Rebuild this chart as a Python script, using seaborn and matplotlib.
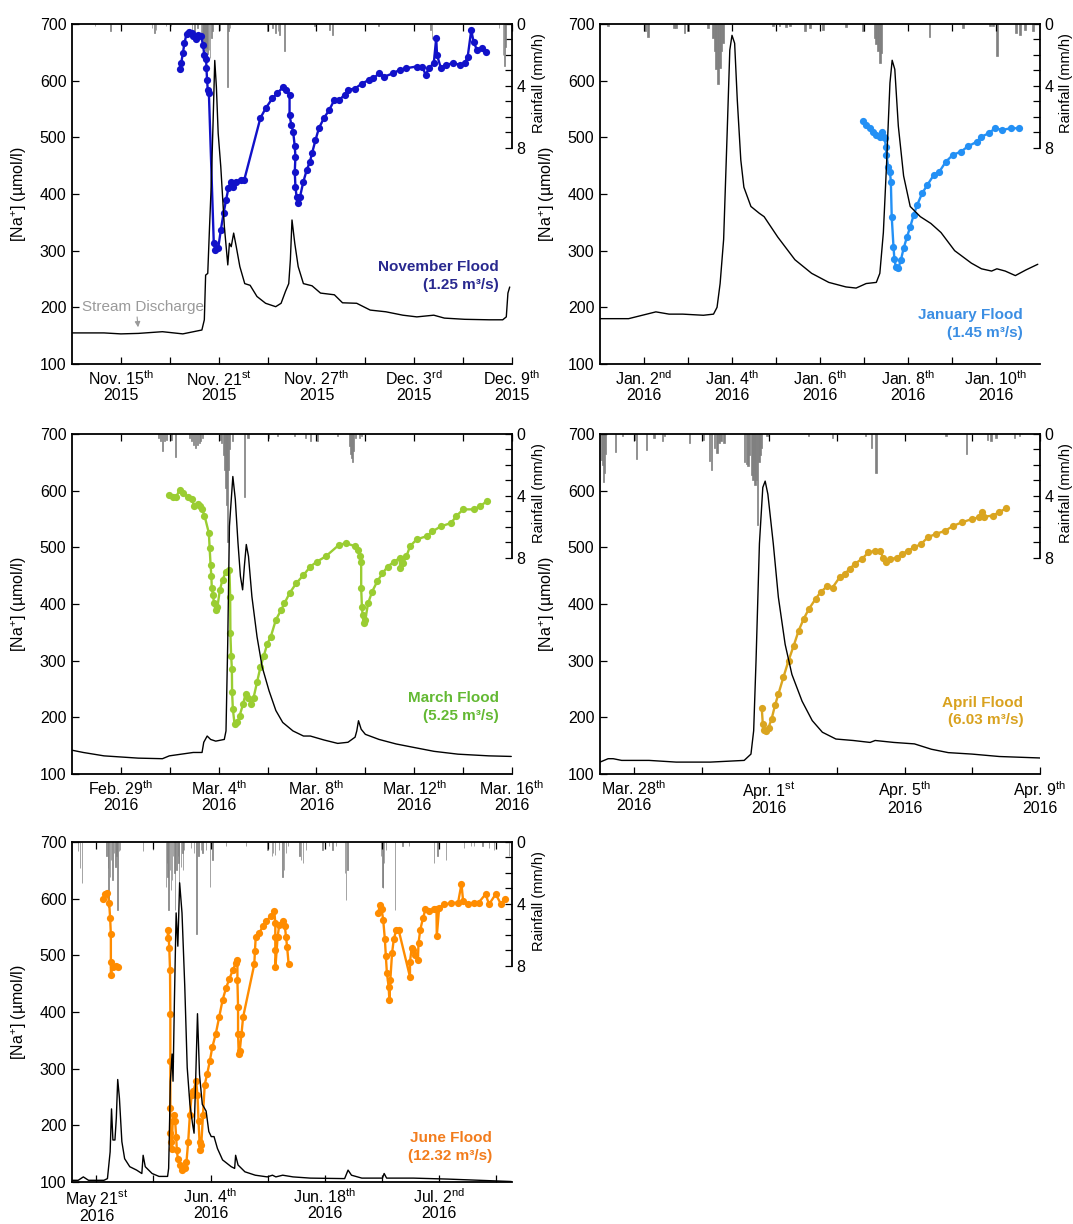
import numpy as np
import pandas as pd
import matplotlib
matplotlib.use("Agg")
import matplotlib.pyplot as plt
import matplotlib.dates as mdates
from matplotlib.ticker import FixedLocator, FixedFormatter
import seaborn as sns

sns.set_style("ticks")
plt.rcParams["font.family"] = ["Liberation Sans", "DejaVu Sans"]
plt.rcParams.update({
    "mathtext.fontset": "custom",
    "mathtext.rm": "Liberation Sans",
    "mathtext.it": "Liberation Sans:italic",
    "mathtext.bf": "Liberation Sans:bold",
    "axes.edgecolor": "black",
    "xtick.color": "black",
    "ytick.color": "black",
    "text.color": "black",
    "axes.labelcolor": "black",
})

RAIN_COLOR = "#808080"

# ---------------------------------------------------------------------------
# November 2015 flood  (times in days after the panel start date)
# ---------------------------------------------------------------------------
nov_start, nov_end = "2015-11-12", "2015-12-09"
nov_na = [(6.6, 620), (6.7, 631), (6.8, 648), (6.9, 666), (7.03, 683), (7.2, 686), (7.35, 684),
          (7.45, 678), (7.6, 673), (7.76, 680), (7.93, 678), (8.04, 663), (8.12, 645), (8.23, 639),
          (8.25, 622), (8.29, 601), (8.33, 584), (8.4, 578), (8.7, 313), (8.8, 301), (8.97, 304),
          (9.13, 336), (9.3, 366), (9.45, 389), (9.6, 410), (9.73, 422), (9.87, 413), (10.08, 422),
          (10.4, 425), (10.57, 425), (11.56, 534), (11.88, 551), (12.3, 569), (12.6, 578),
          (12.93, 588), (13.14, 584), (13.35, 575), (13.35, 539), (13.46, 522), (13.57, 510),
          (13.67, 484), (13.71, 466), (13.67, 439), (13.71, 413), (13.78, 395), (13.84, 384),
          (13.99, 395), (14.2, 422), (14.4, 442), (14.6, 457), (14.73, 472), (14.94, 495),
          (15.15, 516), (15.46, 534), (15.78, 548), (16.1, 566), (16.4, 566), (16.73, 575),
          (16.94, 584), (17.36, 586), (17.8, 595), (18.2, 601), (18.5, 604), (18.84, 613),
          (19.16, 607), (19.7, 613), (20.1, 619), (20.5, 622), (21.16, 625), (21.5, 625),
          (21.7, 610), (21.9, 622), (22.2, 631), (22.35, 675), (22.4, 645), (22.64, 622),
          (22.95, 628), (23.4, 631), (23.8, 628), (24.1, 631), (24.28, 642), (24.5, 689),
          (24.64, 669), (24.85, 654), (25.17, 657), (25.4, 651)]
nov_discharge = [(0, 0.128), (1.96, 0.128), (3.0, 0.124), (4.07, 0.126), (5.55, 0.133), (6.8, 0.124),
                 (7.97, 0.14), (8.12, 0.182), (8.2, 0.366), (8.33, 0.373), (8.44, 0.565), (8.54, 0.73),
                 (8.65, 0.978), (8.76, 1.25), (8.86, 1.141), (8.97, 0.95), (9.13, 0.812), (9.35, 0.565),
                 (9.56, 0.408), (9.66, 0.497), (9.77, 0.483), (9.92, 0.539), (10.08, 0.483), (10.3, 0.401),
                 (10.6, 0.331), (10.93, 0.324), (11.35, 0.278), (11.88, 0.25), (12.5, 0.236), (12.83, 0.25),
                 (13.1, 0.299), (13.3, 0.331), (13.4, 0.429), (13.5, 0.593), (13.67, 0.497), (13.88, 0.401),
                 (14.2, 0.331), (14.73, 0.322), (15.25, 0.292), (16.1, 0.285), (16.6, 0.252), (17.47, 0.25),
                 (18.3, 0.222), (19.26, 0.215), (20.3, 0.201), (21.16, 0.194), (22.2, 0.201), (22.85, 0.189),
                 (24.1, 0.184), (25.6, 0.182), (26.43, 0.182), (26.65, 0.194), (26.75, 0.292), (26.86, 0.317)]
nov_rain = [(1.41, 0.15), (2.35, 0.47), (3.0, 0.15), (4.9, 0.26), (5.05, 0.58), (5.15, 0.36), (5.77, 0.15),
            (6.07, 0.15), (7.36, 0.9), (7.5, 0.47), (7.7, 0.26), (7.91, 0.68), (8.0, 1.0), (8.06, 1.32),
            (8.12, 1.5), (8.18, 1.75), (8.25, 1.55), (8.32, 1.97), (8.4, 1.65), (8.47, 2.18), (8.55, 0.9),
            (8.63, 0.47), (9.04, 0.36), (9.55, 4.1), (9.62, 0.47), (9.7, 0.26), (12.0, 0.47), (12.3, 0.26),
            (12.5, 0.58), (12.65, 0.47), (12.75, 0.68), (13.03, 1.75), (14.9, 0.15), (15.8, 0.36),
            (16.0, 0.68), (18.8, 0.15), (22.0, 0.36), (22.1, 1.0), (24.0, 0.26), (26.2, 0.26),
            (26.45, 2.0), (26.55, 2.7), (26.62, 1.5)]
nov_major = ["2015-11-15", "2015-11-21", "2015-11-27", "2015-12-03", "2015-12-09"]
nov_labels = ["Nov. 15$^{\\mathrm{th}}$\n2015", "Nov. 21$^{\\mathrm{st}}$\n2015",
              "Nov. 27$^{\\mathrm{th}}$\n2015", "Dec. 3$^{\\mathrm{rd}}$\n2015",
              "Dec. 9$^{\\mathrm{th}}$\n2015"]
nov_minor = ["2015-11-18", "2015-11-24", "2015-11-30", "2015-12-06"]

# ---------------------------------------------------------------------------
# January 2016 flood
# ---------------------------------------------------------------------------
jan_start, jan_end = "2016-01-01", "2016-01-11"
jan_na = [(5.97, 528), (6.05, 522), (6.13, 516), (6.2, 510), (6.28, 504), (6.36, 501), (6.42, 510),
          (6.45, 501), (6.47, 498), (6.5, 483), (6.51, 469), (6.55, 448), (6.59, 439), (6.61, 422),
          (6.63, 360), (6.67, 307), (6.69, 286), (6.72, 272), (6.78, 269), (6.84, 284), (6.9, 304),
          (6.98, 325), (7.05, 342), (7.13, 363), (7.21, 381), (7.32, 401), (7.44, 416), (7.59, 434),
          (7.71, 439), (7.86, 457), (8.02, 469), (8.21, 475), (8.36, 484), (8.56, 492), (8.67, 501),
          (8.83, 507), (8.98, 516), (9.14, 513), (9.33, 516), (9.52, 516)]
jan_discharge = [(0, 0.20), (0.65, 0.20), (0.96, 0.215), (1.27, 0.23), (1.57, 0.22), (1.88, 0.22),
                 (2.35, 0.215), (2.58, 0.22), (2.66, 0.25), (2.73, 0.355), (2.81, 0.55), (2.89, 1.02),
                 (2.95, 1.385), (3.0, 1.45), (3.06, 1.415), (3.12, 1.165), (3.2, 0.90), (3.27, 0.78),
                 (3.43, 0.695), (3.62, 0.665), (3.73, 0.65), (4.04, 0.56), (4.43, 0.46), (4.81, 0.40),
                 (5.2, 0.36), (5.59, 0.34), (5.82, 0.335), (6.05, 0.355), (6.28, 0.36), (6.36, 0.40),
                 (6.44, 0.58), (6.51, 0.87), (6.59, 1.24), (6.64, 1.34), (6.7, 1.30), (6.78, 1.05),
                 (6.9, 0.83), (7.05, 0.695), (7.28, 0.65), (7.52, 0.62), (7.75, 0.58), (8.06, 0.50),
                 (8.44, 0.445), (8.67, 0.42), (8.9, 0.41), (9.02, 0.42), (9.21, 0.41), (9.44, 0.39),
                 (9.68, 0.415), (9.95, 0.44)]
jan_rain = [(0.18, 0.15), (1.02, 0.47), (1.09, 0.85), (1.68, 0.26), (1.73, 0.26), (1.92, 0.58), (2.0, 0.47),
            (2.45, 0.26), (2.57, 0.9), (2.61, 1.75), (2.64, 2.9), (2.68, 3.9), (2.72, 2.85), (2.76, 1.75),
            (2.8, 1.22), (3.93, 0.15), (4.08, 0.15), (4.23, 0.2), (4.31, 0.15), (4.65, 0.47), (4.77, 0.26),
            (5.07, 0.36), (5.6, 0.2), (5.98, 0.47), (6.24, 0.9), (6.28, 1.32), (6.32, 1.75), (6.36, 2.5),
            (6.39, 1.86), (7.49, 0.85), (8.25, 0.26), (8.86, 0.15), (8.93, 0.15), (9.03, 2.07),
            (9.46, 0.58), (9.54, 0.68), (9.65, 0.36), (9.84, 0.47)]
jan_major = ["2016-01-02", "2016-01-04", "2016-01-06", "2016-01-08", "2016-01-10"]
jan_labels = ["Jan. 2$^{\\mathrm{nd}}$\n2016", "Jan. 4$^{\\mathrm{th}}$\n2016", "Jan. 6$^{\\mathrm{th}}$\n2016",
              "Jan. 8$^{\\mathrm{th}}$\n2016", "Jan. 10$^{\\mathrm{th}}$\n2016"]
jan_minor = ["2016-01-03", "2016-01-05", "2016-01-07", "2016-01-09"]

# ---------------------------------------------------------------------------
# March 2016 flood
# ---------------------------------------------------------------------------
mar_start, mar_end = "2016-02-27", "2016-03-16"
mar_na = [(3.98, 593), (4.12, 589), (4.26, 588), (4.4, 602), (4.54, 596), (4.75, 589), (4.9, 585),
          (5.0, 573), (5.14, 576), (5.25, 573), (5.32, 567), (5.42, 556), (5.6, 525), (5.63, 499),
          (5.67, 469), (5.7, 449), (5.72, 428), (5.77, 416), (5.81, 401), (5.88, 389), (5.95, 395),
          (6.05, 425), (6.16, 443), (6.3, 457), (6.44, 460), (6.47, 413), (6.48, 348), (6.51, 309),
          (6.54, 286), (6.55, 244), (6.58, 215), (6.65, 188), (6.77, 191), (6.86, 203), (7.0, 224),
          (7.1, 241), (7.22, 235), (7.33, 224), (7.43, 235), (7.57, 262), (7.71, 289), (7.85, 309),
          (7.99, 330), (8.13, 342), (8.34, 372), (8.55, 389), (8.69, 401), (8.9, 419), (9.18, 437),
          (9.47, 451), (9.75, 466), (10.03, 475), (10.38, 484), (10.94, 505), (11.22, 507),
          (11.58, 502), (11.72, 496), (11.79, 484), (11.83, 475), (11.83, 428), (11.86, 395),
          (11.89, 380), (11.93, 366), (12.0, 372), (12.11, 401), (12.28, 422), (12.49, 440),
          (12.7, 454), (12.91, 466), (13.19, 475), (13.4, 481), (13.43, 463), (13.54, 472),
          (13.68, 484), (13.83, 502), (14.1, 514), (14.53, 520), (14.74, 528), (15.09, 537),
          (15.51, 543), (15.72, 555), (16.0, 567), (16.43, 567), (16.71, 573), (16.99, 582)]
mar_discharge = [(0, 0.42), (0.46, 0.38), (1.31, 0.32), (2.71, 0.28), (3.7, 0.27), (3.98, 0.32), (4.96, 0.38),
                 (5.32, 0.38), (5.39, 0.56), (5.53, 0.67), (5.67, 0.61), (5.88, 0.58), (6.23, 0.61),
                 (6.3, 0.76), (6.37, 2.30), (6.44, 4.37), (6.58, 5.25), (6.68, 4.85), (6.79, 4.08),
                 (6.89, 3.49), (6.98, 3.25), (7.05, 3.66), (7.13, 4.05), (7.22, 3.84), (7.36, 3.13),
                 (7.57, 2.42), (7.78, 1.89), (8.06, 1.47), (8.34, 1.12), (8.62, 0.91), (9.04, 0.76),
                 (9.47, 0.67), (9.75, 0.67), (10.31, 0.60), (10.87, 0.54), (11.29, 0.56), (11.58, 0.65),
                 (11.65, 0.76), (11.72, 0.94), (11.83, 0.79), (12.0, 0.70), (12.56, 0.61), (13.26, 0.53),
                 (13.97, 0.47), (14.81, 0.40), (15.79, 0.35), (17.06, 0.32), (17.97, 0.31)]
mar_rain = [(3.55, 0.26), (3.63, 0.48), (3.71, 1.13), (3.78, 0.48), (3.85, 0.37), (4.05, 0.37), (4.23, 1.52),
            (4.8, 0.26), (4.9, 0.48), (4.98, 0.7), (5.07, 0.91), (5.13, 0.7), (5.2, 0.59), (5.27, 0.48),
            (5.33, 0.26), (6.06, 0.37), (6.13, 0.59), (6.2, 1.35), (6.25, 2.3), (6.3, 3.5), (6.33, 4.6),
            (6.37, 7.0), (6.41, 2.3), (6.45, 1.0), (6.55, 0.48), (7.05, 4.1), (7.2, 0.26), (8.05, 0.26),
            (8.4, 0.15), (9.1, 0.15), (9.55, 0.26), (9.75, 0.48), (10.05, 0.48), (10.85, 0.15),
            (11.37, 0.8), (11.41, 1.3), (11.44, 1.56), (11.48, 1.78), (11.52, 1.13), (11.6, 0.26),
            (11.75, 0.26), (11.85, 0.15)]
mar_major = ["2016-02-29", "2016-03-04", "2016-03-08", "2016-03-12", "2016-03-16"]
mar_labels = ["Feb. 29$^{\\mathrm{th}}$\n2016", "Mar. 4$^{\\mathrm{th}}$\n2016", "Mar. 8$^{\\mathrm{th}}$\n2016",
              "Mar. 12$^{\\mathrm{th}}$\n2016", "Mar. 16$^{\\mathrm{th}}$\n2016"]
mar_minor = ["2016-03-02", "2016-03-06", "2016-03-10", "2016-03-14"]

# ---------------------------------------------------------------------------
# April 2016 flood
# ---------------------------------------------------------------------------
apr_start, apr_end = "2016-03-27", "2016-04-09"
apr_na = [(4.78, 216), (4.81, 188), (4.86, 178), (4.91, 176), (4.98, 182), (5.07, 197), (5.17, 221),
          (5.27, 241), (5.42, 271), (5.57, 300), (5.72, 326), (5.87, 353), (6.02, 374), (6.17, 391),
          (6.37, 409), (6.52, 421), (6.72, 432), (6.87, 429), (7.08, 447), (7.23, 453), (7.38, 462),
          (7.53, 471), (7.73, 479), (7.93, 491), (8.13, 494), (8.28, 494), (8.36, 482), (8.46, 474),
          (8.58, 479), (8.78, 482), (8.93, 488), (9.09, 494), (9.29, 500), (9.49, 506), (9.69, 518),
          (9.94, 524), (10.19, 529), (10.44, 538), (10.69, 544), (10.99, 550), (11.2, 553),
          (11.3, 562), (11.35, 554), (11.6, 556), (11.8, 562), (12.0, 569)]
apr_discharge = [(0, 0.245), (0.24, 0.315), (0.39, 0.315), (0.64, 0.28), (1.45, 0.28), (2.25, 0.245),
                 (3.26, 0.245), (4.26, 0.28), (4.46, 0.41), (4.54, 0.89), (4.61, 2.33), (4.71, 4.74),
                 (4.81, 5.90), (4.88, 6.03), (4.96, 5.76), (5.12, 4.74), (5.27, 3.64), (5.47, 2.67),
                 (5.67, 2.05), (5.97, 1.5), (6.27, 1.10), (6.57, 0.86), (6.97, 0.72), (7.48, 0.69),
                 (7.98, 0.65), (8.13, 0.69), (8.68, 0.65), (9.29, 0.62), (9.79, 0.51), (10.29, 0.44),
                 (10.99, 0.41), (11.8, 0.36), (13.0, 0.33)]
apr_rain = [(0.05, 1.7), (0.08, 2.0), (0.1, 3.1), (0.13, 2.5), (0.17, 1.3), (0.46, 1.15), (0.67, 0.15),
            (1.02, 0.37), (1.07, 1.6), (1.37, 1.05), (1.6, 0.26), (1.84, 0.48), (1.9, 0.15), (2.65, 0.6),
            (3.05, 0.37), (3.24, 1.75), (3.3, 2.3), (3.38, 0.9), (3.46, 1.25), (3.52, 0.6), (3.58, 0.48),
            (3.66, 0.6), (4.27, 1.8), (4.32, 1.95), (4.37, 2.05), (4.42, 1.35), (4.49, 2.65), (4.52, 3.0),
            (4.55, 2.3), (4.58, 3.3), (4.62, 3.0), (4.66, 5.9), (4.7, 1.78), (4.73, 1.35), (4.77, 0.9),
            (4.93, 0.15), (6.16, 0.15), (6.87, 0.26), (7.85, 0.15), (8.02, 0.91), (8.16, 2.55),
            (10.22, 0.15), (10.82, 1.3), (11.45, 0.37), (11.55, 0.48), (11.7, 0.26), (12.25, 0.26),
            (12.4, 0.15)]
apr_major = ["2016-03-28", "2016-04-01", "2016-04-05", "2016-04-09"]
apr_labels = ["Mar. 28$^{\\mathrm{th}}$\n2016", "Apr. 1$^{\\mathrm{st}}$\n2016", "Apr. 5$^{\\mathrm{th}}$\n2016",
              "Apr. 9$^{\\mathrm{th}}$\n2016"]
apr_minor = ["2016-03-30", "2016-04-03", "2016-04-07"]

# ---------------------------------------------------------------------------
# June 2016 flood (three sampling campaigns)
# ---------------------------------------------------------------------------
jun_start, jun_end = "2016-05-18", "2016-07-11"
jun_na_a = [(3.84, 599), (4.05, 608), (4.35, 610), (4.56, 593), (4.68, 566), (4.77, 537), (4.77, 489),
            (4.77, 465), (4.98, 480), (5.4, 481), (5.6, 480)]
jun_na_b = [(11.73, 531), (11.81, 545), (11.94, 513), (12.03, 474), (12.07, 397), (12.07, 314),
            (12.07, 231), (12.03, 186), (12.15, 171), (12.24, 159), (12.36, 207), (12.49, 219),
            (12.66, 207), (12.78, 180), (12.87, 156), (12.99, 141), (13.21, 130), (13.54, 121),
            (13.84, 124), (14.05, 136), (14.26, 171), (14.47, 219), (14.68, 254), (14.89, 260),
            (15.23, 278), (15.4, 254), (15.53, 207), (15.65, 171), (15.74, 156), (15.86, 165),
            (16.08, 219), (16.29, 272), (16.58, 290), (16.92, 314), (17.22, 338), (17.64, 361),
            (18.06, 391), (18.48, 421), (18.9, 442), (19.32, 459), (19.75, 474), (20.08, 486),
            (20.3, 492), (20.3, 456), (20.38, 409), (20.38, 361), (20.46, 326), (20.59, 332),
            (20.8, 361), (21.0, 391), (22.37, 484), (22.45, 507), (22.55, 533), (22.99, 539),
            (23.4, 551), (23.8, 560), (24.4, 569), (24.83, 578), (24.95, 557), (24.95, 533),
            (24.95, 510), (24.97, 480), (25.24, 533), (25.44, 554), (25.85, 560), (26.13, 551),
            (26.26, 533), (26.4, 515), (26.59, 484)]
jun_na_c = [(37.55, 575), (37.8, 588), (38.0, 581), (38.19, 563), (38.4, 528), (38.52, 498), (38.65, 468),
            (38.86, 445), (38.95, 421), (39.07, 457), (39.28, 504), (39.49, 528), (39.79, 545),
            (40.08, 545), (41.48, 462), (41.48, 489), (41.69, 513), (41.9, 510), (42.1, 501),
            (42.45, 492), (42.53, 522), (42.74, 545), (43.08, 566), (43.38, 581), (43.8, 578),
            (44.43, 581), (44.73, 581), (44.77, 534), (45.06, 584), (45.7, 590), (46.54, 592),
            (47.38, 593), (47.8, 626), (48.0, 596), (48.65, 590), (49.28, 593), (49.9, 593),
            (50.76, 608), (51.18, 590), (52.0, 608), (52.66, 590), (53.08, 599)]
jun_discharge = [(0, 0.07), (0.76, 0.07), (1.39, 0.21), (2.03, 0.07), (3.92, 0.07), (4.35, 0.14),
                 (4.68, 1.24), (4.85, 3.01), (5.02, 1.73), (5.27, 1.73), (5.44, 2.64), (5.61, 4.22),
                 (5.82, 3.45), (6.12, 1.66), (6.46, 0.96), (7.09, 0.63), (7.93, 0.49), (8.57, 0.35),
                 (8.73, 1.10), (8.99, 0.63), (9.83, 0.35), (10.68, 0.23), (11.73, 0.23), (11.86, 0.56),
                 (11.94, 1.80), (12.07, 4.15), (12.28, 5.27), (12.4, 4.15), (12.57, 7.49), (12.78, 11.08),
                 (12.99, 9.71), (13.21, 12.32), (13.5, 11.08), (13.84, 8.05), (14.14, 4.71), (14.47, 3.20),
                 (14.81, 2.36), (14.98, 2.01), (15.15, 3.87), (15.4, 6.93), (15.65, 4.43), (15.99, 3.20),
                 (16.46, 2.92), (16.79, 2.08), (17.09, 1.87), (17.43, 1.87), (17.85, 1.38), (18.48, 0.91),
                 (19.54, 0.63), (19.96, 0.56), (20.08, 1.10), (20.38, 0.70), (21.22, 0.42), (22.49, 0.28),
                 (23.97, 0.21), (24.6, 0.28), (25.02, 0.21), (25.86, 0.28), (27.13, 0.21), (29.24, 0.16),
                 (33.46, 0.14), (33.88, 0.49), (34.3, 0.28), (35.57, 0.16), (38.1, 0.16), (38.31, 0.35),
                 (38.61, 0.16), (41.9, 0.16), (46.12, 0.12), (53.92, 0.02)]
jun_rain = [(0.7, 0.6), (0.98, 1.7), (1.23, 2.67), (2.94, 0.39), (4.25, 0.93), (4.38, 1.7), (4.5, 4.2),
            (4.66, 2.24), (4.79, 1.15), (4.99, 2.46), (5.19, 0.72), (5.32, 1.59), (5.48, 0.93), (5.6, 4.41),
            (5.73, 0.61), (5.89, 0.5), (8.75, 0.61), (9.98, 0.5), (11.53, 2.89), (11.66, 1.37),
            (11.74, 2.24), (11.86, 4.41), (12.02, 1.8), (12.15, 3.1), (12.27, 2.46), (12.43, 0.93),
            (12.56, 2.02), (12.68, 4.41), (12.84, 1.8), (12.97, 0.93), (13.09, 1.37), (13.17, 2.67),
            (13.37, 1.59), (13.58, 0.72), (13.66, 1.8), (13.78, 0.5), (14.6, 0.39), (15.01, 0.72),
            (15.3, 5.93), (15.54, 0.93), (15.83, 0.5), (16.03, 0.72), (16.44, 0.5), (16.93, 2.89),
            (17.26, 1.15), (18.9, 0.28), (21.35, 0.28), (24.0, 0.5), (24.54, 0.93), (24.7, 0.72),
            (24.95, 0.83), (25.44, 0.5), (25.85, 2.24), (26.05, 1.8), (26.26, 0.72), (26.5, 0.28),
            (27.9, 0.93), (28.1, 1.15), (28.38, 1.37), (28.71, 0.5), (30.76, 0.5), (31.57, 0.28),
            (31.98, 0.5), (32.39, 0.28), (33.54, 2.02), (33.62, 3.76), (33.82, 1.8), (37.91, 0.93),
            (38.12, 2.89), (38.2, 3.0), (38.32, 1.37), (38.53, 0.5), (39.67, 4.41), (40.57, 0.28),
            (41.39, 0.28), (44.46, 1.37), (44.87, 0.93), (45.89, 1.15), (48.14, 0.39), (48.96, 0.28),
            (49.37, 0.28), (50.39, 0.28), (51.21, 0.39), (51.82, 0.5), (53.66, 0.93)]
jun_major = ["2016-05-21", "2016-06-04", "2016-06-18", "2016-07-02"]
jun_labels = ["May 21$^{\\mathrm{st}}$\n2016", "Jun. 4$^{\\mathrm{th}}$\n2016", "Jun. 18$^{\\mathrm{th}}$\n2016",
              "Jul. 2$^{\\mathrm{nd}}$\n2016"]
jun_minor = ["2016-05-28", "2016-06-11", "2016-06-25", "2016-07-09"]


def to_num(start, days):
    t = pd.Timestamp(start) + pd.to_timedelta(np.asarray(days, dtype=float), unit="D")
    return mdates.date2num(t.values)


def draw_panel(fig, rect, start, end, na_segments, discharge, rain, q_top, dot_color, text_color,
               title, peak, major, labels, minor, text_xy, ylab_x, rain_lab_x):
    ax = fig.add_axes(rect)
    axr = ax.twinx()
    axq = ax.twinx()
    axr.set_zorder(1)
    ax.set_zorder(2)
    axq.set_zorder(3)
    ax.patch.set_visible(False)

    # rainfall, hanging from the top on an inverted axis
    rd, rv = zip(*rain)
    axr.bar(to_num(start, rd), rv, width=1 / 24, color=RAIN_COLOR, edgecolor=RAIN_COLOR,
            linewidth=0.5, align="center")
    axr.set_ylim(22, 0)
    for s in ("left", "top", "bottom"):
        axr.spines[s].set_visible(False)
    axr.spines["right"].set_bounds(0, 8)
    axr.spines["right"].set_linewidth(1.3)
    axr.set_yticks([0, 4, 8])
    axr.set_yticks([1, 2, 3, 5, 6, 7], minor=True)
    axr.tick_params(axis="y", which="both", direction="in", length=5, width=0.9,
                    labelsize=11.5, pad=3)
    axr.set_ylabel("Rainfall (mm/h)", fontsize=10.5)
    axr.yaxis.set_label_coords(rain_lab_x, 0.825)

    # stream discharge on its own hidden scale
    qd, qv = zip(*discharge)
    sns.lineplot(x=to_num(start, qd), y=np.asarray(qv), ax=axq, color="black", linewidth=1.0,
                 sort=False, estimator=None)
    axq.set_ylim(0, q_top)
    axq.set_axis_off()

    # sodium concentration
    frames = []
    for k, seg in enumerate(na_segments):
        d, v = zip(*seg)
        frames.append(pd.DataFrame({"time": to_num(start, d), "na": v, "segment": k}))
    df = pd.concat(frames, ignore_index=True)
    sns.lineplot(data=df, x="time", y="na", units="segment", estimator=None, sort=False,
                 color=dot_color, marker="o", markersize=5.2, markeredgewidth=0,
                 linewidth=1.7, ax=ax, legend=False)

    ax.set_xlim(mdates.date2num(pd.Timestamp(start)), mdates.date2num(pd.Timestamp(end)))
    ax.set_ylim(100, 700)
    ax.set_yticks(np.arange(100, 701, 100))
    ax.xaxis.set_major_locator(FixedLocator(mdates.date2num(pd.to_datetime(major).values)))
    ax.xaxis.set_major_formatter(FixedFormatter(labels))
    ax.xaxis.set_minor_locator(FixedLocator(mdates.date2num(pd.to_datetime(minor).values)))
    ax.tick_params(axis="both", which="both", direction="in", length=5, width=0.9,
                   top=True, bottom=True, left=True, right=False, labelsize=11.5, pad=4)
    for lab in ax.get_xticklabels():
        lab.set_linespacing(1.0)
    ax.spines["right"].set_visible(False)
    for s in ("left", "top", "bottom"):
        ax.spines[s].set_linewidth(1.3)
    ax.set_xlabel("")
    ax.set_ylabel("[Na$^{+}$] (µmol/l)", fontsize=11.5)
    ax.yaxis.set_label_coords(ylab_x, 0.5)

    ax.text(text_xy[0], text_xy[1], f"{title}\n({peak} m³/s)", transform=ax.transAxes,
            ha="right", va="center", ma="right", color=text_color, fontsize=11,
            fontweight="bold", linespacing=1.35)
    return ax, axq


fig = plt.figure(figsize=(10.73, 12.24), dpi=100)
W, H = 440 / 1073, 340 / 1224
col1, col2 = 72 / 1073, 600 / 1073
row1, row2, row3 = 1 - 364 / 1224, 1 - 774 / 1224, 1 - 1182 / 1224

ax1, axq1 = draw_panel(fig, [col1, row1, W, H], nov_start, nov_end, [nov_na], nov_discharge, nov_rain,
                       1.4, "#1111c9", "#29298f", "November Flood", "1.25",
                       nov_major, nov_labels, nov_minor, (0.971, 0.26), -0.098, 1.045)
draw_panel(fig, [col2, row1, W, H], jan_start, jan_end, [jan_na], jan_discharge, jan_rain,
           1.5, "#2390f5", "#3b8ee3", "January Flood", "1.45",
           jan_major, jan_labels, jan_minor, (0.96, 0.117), -0.098, 1.043)
draw_panel(fig, [col1, row2, W, H], mar_start, mar_end, [mar_na], mar_discharge, mar_rain,
           6.0, "#9acd32", "#63b933", "March Flood", "5.25",
           mar_major, mar_labels, mar_minor, (0.971, 0.197), -0.098, 1.045)
draw_panel(fig, [col2, row2, W, H], apr_start, apr_end, [apr_na], apr_discharge, apr_rain,
           7.0, "#daa520", "#d9a21f", "April Flood", "6.03",
           apr_major, apr_labels, apr_minor, (0.962, 0.184), -0.098, 1.043)
draw_panel(fig, [col1, row3, W, H], jun_start, jun_end, [jun_na_a, jun_na_b, jun_na_c], jun_discharge,
           jun_rain, 14.0, "#ff8c00", "#f27c1c", "June Flood", "12.32",
           jun_major, jun_labels, jun_minor, (0.955, 0.104), -0.098, 1.045)

# label pointing at the discharge trace in the first panel
ax1.text(0.023, 0.168, "Stream Discharge", transform=ax1.transAxes, color="#9a9a9a",
         fontsize=11, va="center", ha="left")
axq1.annotate("", xy=(to_num(nov_start, [4.07])[0], 0.14), xytext=(to_num(nov_start, [3.98])[0], 0.205),
              arrowprops=dict(arrowstyle="-|>", color="#9a9a9a", lw=0.8, mutation_scale=8))

fig.savefig("out.png", dpi=100)
